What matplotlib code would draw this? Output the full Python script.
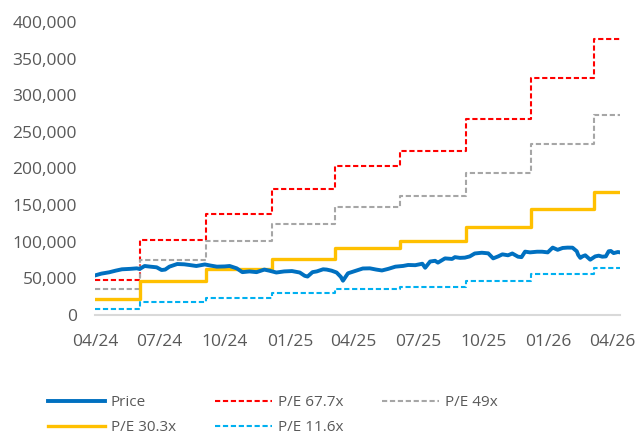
import matplotlib
matplotlib.use("Agg")
import matplotlib.dates as mdates
import matplotlib.pyplot as plt
import pandas as pd


# Price series
price_dates = [
    "2024-04-01", "2024-04-10", "2024-04-21", "2024-04-30", "2024-05-09",
    "2024-05-21", "2024-05-30", "2024-06-03", "2024-06-10", "2024-06-18",
    "2024-06-27", "2024-07-04", "2024-07-09", "2024-07-15", "2024-07-26",
    "2024-08-05", "2024-08-12", "2024-08-22", "2024-09-03", "2024-09-11",
    "2024-09-20", "2024-10-01", "2024-10-08", "2024-10-18", "2024-10-26",
    "2024-11-05", "2024-11-15", "2024-11-26", "2024-12-03", "2024-12-13",
    "2024-12-24", "2025-01-04", "2025-01-15", "2025-01-22", "2025-01-26",
    "2025-02-02", "2025-02-08", "2025-02-17", "2025-02-22", "2025-03-01",
    "2025-03-08", "2025-03-14", "2025-03-17", "2025-03-24", "2025-04-06",
    "2025-04-14", "2025-04-24", "2025-05-03", "2025-05-11", "2025-05-20",
    "2025-05-30", "2025-06-10", "2025-06-17", "2025-06-27", "2025-07-07",
    "2025-07-11", "2025-07-18", "2025-07-25", "2025-07-29", "2025-08-08",
    "2025-08-18", "2025-08-22", "2025-08-29", "2025-09-05", "2025-09-12",
    "2025-09-19", "2025-09-29", "2025-10-08", "2025-10-15", "2025-10-22",
    "2025-10-28", "2025-11-05", "2025-11-11", "2025-11-19", "2025-11-24",
    "2025-11-29", "2025-12-06", "2025-12-16", "2025-12-23", "2025-12-31",
    "2026-01-07", "2026-01-14", "2026-01-21", "2026-01-28", "2026-02-04",
    "2026-02-10", "2026-02-12", "2026-02-15", "2026-02-18", "2026-02-22",
    "2026-03-01", "2026-03-08", "2026-03-13", "2026-03-18", "2026-03-23",
    "2026-03-27", "2026-03-30", "2026-04-03", "2026-04-09", "2026-04-12",
]
price_values = [
    54000, 56500, 58300, 60500, 62400,
    63000, 63700, 62800, 66900, 66000,
    65100, 61400, 62000, 66000, 69600,
    69200, 68300, 66900, 69000, 67500,
    66000, 66300, 66900, 63700, 58500,
    59500, 58500, 62000, 60500, 58000,
    59500, 60000, 58000, 53500, 52500,
    58500, 59500, 62400, 62000, 60500,
    58000, 52000, 46800, 56900, 61000,
    63500, 63700, 62000, 60800, 63000,
    66000, 67000, 68300, 68000, 70000,
    64500, 73000, 74000, 71500, 77300,
    76500, 79000, 78000, 78300, 80000,
    84000, 85000, 84200, 77300, 80000,
    82800, 81500, 84000, 79600, 79000,
    86500, 85500, 86400, 86400, 85500,
    92000, 89000, 91500, 92000, 91900,
    87000, 82000, 78000, 80000, 81500,
    75500, 80000, 81000, 79600, 80000,
    87000, 87400, 84500, 86000, 85500,
]

# P/E band step dates (start, quarterly changes, end)
band_dates = [
    "2024-04-01", "2024-06-04", "2024-09-05", "2024-12-07", "2025-03-06",
    "2025-06-06", "2025-09-06", "2025-12-07", "2026-03-07", "2026-04-12",
]
pe_67_7 = [48000, 103000, 138500, 172000, 203000, 224500, 268000, 323500, 376500]
pe_49 = [35300, 74800, 100500, 124500, 147000, 163000, 194000, 234000, 272500]
pe_30_3 = [21800, 46300, 62400, 76600, 91000, 101000, 120000, 144700, 168300]
pe_11_6 = [8300, 17700, 23800, 29400, 34900, 38700, 45900, 55400, 64500]

y_ticks = [0, 50000, 100000, 150000, 200000, 250000, 300000, 350000, 400000]
x_ticks = ["2024-04-01", "2024-07-01", "2024-10-01", "2025-01-01", "2025-04-01",
           "2025-07-01", "2025-10-01", "2026-01-01", "2026-04-01"]

TEXT_COLOR = "#595959"

plt.rcParams["font.family"] = ["Open Sans", "DejaVu Sans"]

fig = plt.figure(figsize=(6.38, 4.37), dpi=100)
ax = fig.add_axes([95 / 638, 1 - 315 / 437, 525 / 638, 293 / 437])

price_x = pd.to_datetime(price_dates)
band_x = pd.to_datetime(band_dates)


def steps(values):
    # repeat the last level so the step reaches the end date
    return list(values) + [values[-1]]


ax.plot(band_x, steps(pe_67_7), drawstyle="steps-post", color="#ff0000",
        lw=1.5, dashes=(2.5, 1.3), label="P/E 67.7x", zorder=2)
ax.plot(band_x, steps(pe_49), drawstyle="steps-post", color="#a6a6a6",
        lw=1.5, dashes=(2.5, 1.3), label="P/E 49x", zorder=2)
ax.plot(band_x, steps(pe_30_3), drawstyle="steps-post", color="#ffc000",
        lw=2.4, label="P/E 30.3x", zorder=2)
ax.plot(band_x, steps(pe_11_6), drawstyle="steps-post", color="#00b0f0",
        lw=1.5, dashes=(2.5, 1.3), label="P/E 11.6x", zorder=2)
ax.plot(price_x, price_values, color="#0070c0", lw=2.8, label="Price",
        solid_joinstyle="round", zorder=3)

ax.set_xlim(band_x[0], band_x[-1])
ax.set_ylim(0, 400000)
ax.set_yticks(y_ticks)
ax.set_yticklabels([f"{v:,}" for v in y_ticks])
ax.set_xticks(pd.to_datetime(x_ticks))
ax.xaxis.set_major_formatter(mdates.DateFormatter("%m/%y"))

for side in ["top", "right", "left"]:
    ax.spines[side].set_visible(False)
ax.spines["bottom"].set_color("#d9d9d9")
ax.spines["bottom"].set_linewidth(1.5)
ax.tick_params(axis="both", length=0, labelsize=12.5, colors=TEXT_COLOR)
ax.tick_params(axis="y", pad=13)
ax.tick_params(axis="x", pad=14)

# Legend: same order as the source chart (filled column by column)
handles, labels = ax.get_legend_handles_labels()
by_label = dict(zip(labels, handles))
order = ["Price", "P/E 30.3x", "P/E 67.7x", "P/E 11.6x", "P/E 49x"]
leg = fig.legend(
    [by_label[k] for k in order], order,
    loc="upper left", bbox_to_anchor=(48 / 638, 1 - 395 / 437),
    ncol=3, frameon=False, fontsize=11, borderpad=0, borderaxespad=0,
    handlelength=3.7, handletextpad=0.4, columnspacing=2.57, labelspacing=0.68,
)
for text in leg.get_texts():
    text.set_color(TEXT_COLOR)

fig.savefig("out.png", dpi=100)
